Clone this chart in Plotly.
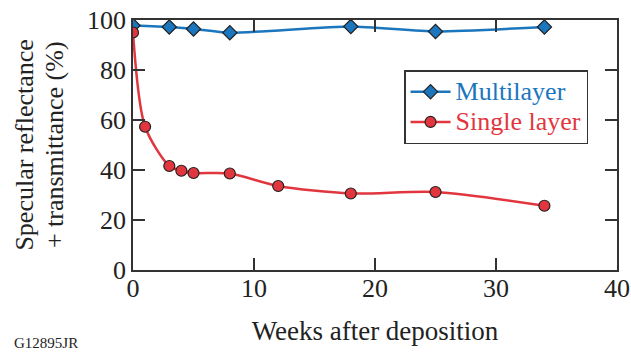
import plotly.graph_objects as go

# Measured specular reflectance + transmittance over time
multi_weeks = [0, 3, 5, 8, 18, 25, 34]
multi_vals = [97.8, 97.2, 96.4, 94.9, 97.4, 95.4, 97.2]

single_weeks = [0, 1, 3, 4, 5, 8, 12, 18, 25, 34]
single_vals = [95.0, 57.3, 41.6, 39.7, 38.8, 38.6, 33.6, 30.6, 31.2, 25.7]

x_ticks = [0, 10, 20, 30, 40]
y_ticks = [0, 20, 40, 60, 80, 100]

BLUE = "#1b76be"
RED = "#e2363f"
EDGE = "#222222"
INK = "#222222"
FONT = "Liberation Serif"

fig = go.Figure()

fig.add_trace(go.Scatter(
    x=multi_weeks, y=multi_vals, mode="lines+markers",
    name=f"<span style='color:{BLUE};font-size:26px'>Multilayer</span>",
    line=dict(color=BLUE, width=2.5, shape="spline", smoothing=0.6),
    marker=dict(symbol="diamond", size=11, color=BLUE,
                line=dict(color=EDGE, width=1.2)),
))

fig.add_trace(go.Scatter(
    x=single_weeks, y=single_vals, mode="lines+markers",
    name=f"<span style='color:{RED};font-size:26px'>Single layer</span>",
    line=dict(color=RED, width=2.5, shape="spline", smoothing=0.8),
    marker=dict(symbol="circle", size=11, color=RED,
                line=dict(color=EDGE, width=1.2)),
))

axis_common = dict(
    showgrid=False, zeroline=False, showline=True, linecolor="#333333",
    linewidth=1.5, ticks="inside", ticklen=12, tickwidth=1.5,
    tickcolor="#333333", mirror="ticks", automargin=False,
    tickfont=dict(family=FONT, size=26, color=INK),
)

fig.update_xaxes(range=[0, 40], tickvals=x_ticks, ticklabelstandoff=-6,
                 title=dict(text="Weeks after deposition",
                            font=dict(family=FONT, size=27, color=INK),
                            standoff=19),
                 **axis_common)
fig.update_yaxes(range=[0, 100], tickvals=y_ticks, **axis_common)

# Two-line y-axis caption, lines flush at their ends
fig.add_annotation(
    text="Specular reflectance",
    xref="paper", yref="paper", x=-0.226, y=0.93,
    xanchor="center", yanchor="top", textangle=-90, showarrow=False,
    font=dict(family=FONT, size=26, color=INK),
)
fig.add_annotation(
    text="+ transmittance (%)",
    xref="paper", yref="paper", x=-0.163, y=0.922,
    xanchor="center", yanchor="top", textangle=-90, showarrow=False,
    font=dict(family=FONT, size=26, color=INK),
)

fig.add_annotation(
    text="G12895JR", xref="paper", yref="paper", x=-0.25, y=-0.29,
    xanchor="left", yanchor="middle", showarrow=False,
    font=dict(family=FONT, size=15, color=INK),
)

fig.update_layout(
    width=631, height=354,
    margin=dict(l=133, r=14, t=20, b=84),
    paper_bgcolor="white", plot_bgcolor="white",
    showlegend=True,
    legend=dict(x=0.56, y=0.8, xanchor="left", yanchor="top",
                bordercolor="#333333", borderwidth=1.5, bgcolor="white",
                font=dict(family=FONT, size=21), tracegroupgap=0,
                itemwidth=40),
)

fig.write_html("out.html")
